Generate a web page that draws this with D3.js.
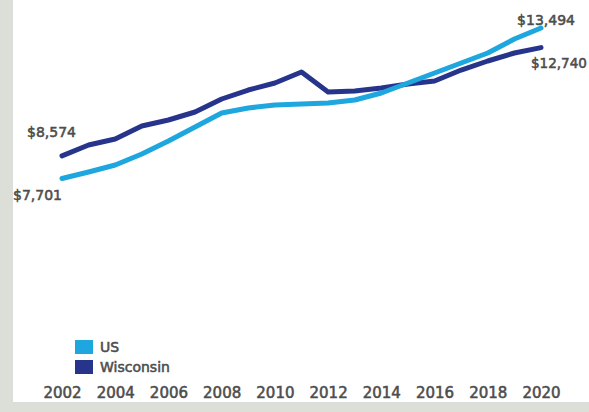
<!DOCTYPE html>
<html><head><meta charset="utf-8">
<script src="https://cdn.jsdelivr.net/npm/d3@7"></script>
<style>
html,body{margin:0;padding:0;background:#fff;}
svg{display:block;}
text{font-family:"DejaVu Sans",sans-serif;}
</style></head>
<body>
<script>
const years = [2002,2003,2004,2005,2006,2007,2008,2009,2010,2011,2012,2013,2014,2015,2016,2017,2018,2019,2020];
const usValues = [7701,7951,8221,8644,9144,9683,10222,10415,10530,10569,10607,10723,10992,11377,11762,12147,12531,13070,13494];
const wiValues = [8574,8990,9221,9722,9953,10261,10761,11107,11377,11800,11030,11069,11184,11338,11454,11877,12224,12531,12740];
const tickYears = [2002,2004,2006,2008,2010,2012,2014,2016,2018,2020];
const seriesNames = ["US","Wisconsin"];
const seriesColors = ["#1ea6df","#27348b"];

const W = 589, H = 412;
const svg = d3.select("body").append("svg").attr("width",W).attr("height",H);
svg.append("rect").attr("width",W).attr("height",H).attr("fill","#dcdfd7");
svg.append("rect").attr("x",13).attr("y",0).attr("width",W-13).attr("height",402).attr("fill","#fff");

const x = d3.scaleLinear().domain([2002,2020]).range([62,541]);
const y = d3.scaleLinear().domain([7701,13494]).range([178.5,28]);

const line = d3.line().x((d,i)=>x(years[i])).y(d=>y(d)).curve(d3.curveLinear);

svg.append("path").datum(wiValues).attr("d",line).attr("fill","none")
  .attr("stroke",seriesColors[1]).attr("stroke-width",5).attr("stroke-linecap","round").attr("stroke-linejoin","round");
svg.append("path").datum(usValues).attr("d",line).attr("fill","none")
  .attr("stroke",seriesColors[0]).attr("stroke-width",5).attr("stroke-linecap","round").attr("stroke-linejoin","round");

const fmt = v => "$" + d3.format(",")(v);
const labStyle = (s,fs) => s.attr("font-size",fs||14).attr("fill","#4d4d4d").attr("font-weight","normal")
  .attr("stroke","#4d4d4d").attr("stroke-width",0.55);

labStyle(svg.append("text").attr("x",x(2002)-35).attr("y",y(wiValues[0])-19)).text(fmt(wiValues[0]));
labStyle(svg.append("text").attr("x",x(2002)).attr("y",y(usValues[0])+21).attr("text-anchor","end")).text(fmt(usValues[0]));
labStyle(svg.append("text").attr("x",x(2020)+34).attr("y",y(usValues[18])-3).attr("text-anchor","end")).text(fmt(usValues[18]));
labStyle(svg.append("text").attr("x",x(2020)-10).attr("y",y(wiValues[18])+20), 13.5).text(fmt(wiValues[18]));

// x axis labels
const xAxis = d3.axisBottom(x).tickValues(tickYears).tickFormat(d3.format("d")).tickSize(0).tickPadding(0);
const gx = svg.append("g").attr("transform","translate(0,387)").call(xAxis);
gx.select(".domain").remove();
labStyle(gx.selectAll("text").attr("font-family","DejaVu Sans"), 15);

// legend
const leg = svg.append("g");
seriesNames.forEach((n,i)=>{
  leg.append("rect").attr("x",75).attr("y",340+i*20).attr("width",18).attr("height",14).attr("fill",seriesColors[i]);
  labStyle(leg.append("text").attr("x",100).attr("y",352+i*20)).text(n);
});
</script>
</body></html>
